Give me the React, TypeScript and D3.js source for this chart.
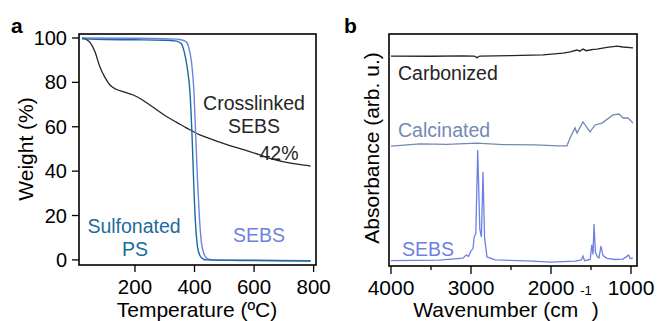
import React from 'react';
import * as d3 from 'd3';

// ---- panel a: TGA (temperature in °C, weight in %)
const crosslinkedT = [22, 35, 49, 65, 82, 100, 116, 135, 160, 194, 220, 250, 280, 307, 340, 374, 418, 470, 530, 580, 620, 660, 700, 750, 790];
const crosslinkedW = [100, 99.5, 98, 94, 87, 82, 78.8, 77, 75.8, 74.3, 72.5, 69.8, 67, 64.5, 62, 59.4, 56.3, 53.8, 51, 49, 47.3, 45.5, 44.2, 43, 42.3];

const sulfonatedT = [22, 100, 200, 300, 340, 355, 365, 375, 385, 392, 398, 404, 410, 418, 428, 440, 600, 790];
const sulfonatedW = [99.6, 99.3, 99.2, 99, 98.6, 97.5, 94, 87, 75, 55, 32, 15, 6, 2, 0.5, 0, -0.3, -0.5];

const sebsT = [22, 200, 300, 350, 370, 380, 390, 398, 404, 410, 416, 423, 431, 439, 448, 462, 790];
const sebsW = [100, 99.9, 99.7, 99.3, 98.5, 96, 89, 76, 56, 36, 20, 8, 3, 1, 0.3, 0, -0.4];

const tempTicks = [200, 400, 600, 800];
const weightTicks = [0, 20, 40, 60, 80, 100];

// ---- panel b: FTIR (wavenumber in cm-1, absorbance in arb. u. with offsets)
const carbonizedX = [4000, 3500, 3100, 2960, 2925, 2890, 2500, 2100, 1850, 1760, 1675, 1640, 1600, 1560, 1512, 1470, 1425, 1300, 1175, 1100, 975];
const carbonizedY = [90.5, 90.4, 90.6, 90.5, 89.8, 90.5, 90.7, 91, 91.8, 92.3, 93.1, 92.6, 93.5, 92.8, 93.1, 93.4, 93.5, 94.2, 94.8, 94.4, 94];

const calcinatedX = [4000, 3640, 3300, 2925, 2600, 2200, 1900, 1800, 1762, 1700, 1675, 1600, 1512, 1450, 1362, 1225, 1150, 1100, 1037, 975];
const calcinatedY = [51.7, 52.6, 52.4, 53, 52.3, 52.2, 51.8, 51.8, 55.2, 59.5, 57.3, 62.1, 57.8, 60.8, 61.6, 65.1, 65.5, 63.8, 63.8, 61.6];

const sebsIrX = [4000, 3400, 3100, 3060, 3030, 3000, 2975, 2960, 2940, 2916, 2890, 2870, 2850, 2830, 2800, 2700, 2300, 2000, 1700, 1620, 1600, 1580, 1510, 1490, 1475, 1462, 1445, 1420, 1400, 1375, 1350, 1300, 1200, 1100, 1030, 1010, 975];
const sebsIrY = [2.3, 2.5, 3.4, 4.7, 4.2, 6.5, 7.5, 12.5, 14, 50, 16, 12.5, 40.5, 12, 3.9, 2.6, 2.2, 1.7, 2.1, 2.6, 4.3, 2.3, 2.8, 9.1, 5, 18.1, 6, 4, 3.5, 8.6, 4.5, 3.3, 2.8, 3, 4.7, 3.2, 3.4];

const waveMajor = [4000, 3000, 2000, 1000];
const waveMinor = [3500, 2500, 1500];

const FONT = '"Liberation Sans", Arial, Helvetica, sans-serif';
const C_CROSS = '#252525';
const C_SULF = '#1b6c9c';
const C_SEBS = '#6f80e4';
const C_CALC = '#7389b3';

const zip = (xs: number[], ys: number[]) => xs.map((x, i) => [x, ys[i]] as [number, number]);

export default function App() {
  // panel a scales
  const xA = d3.scaleLinear().domain([12, 808]).range([79, 316]);
  const yA = d3.scaleLinear().domain([-2.3, 101.8]).range([265, 34]);
  const lineA = d3.line<[number, number]>()
    .x(d => xA(d[0]))
    .y(d => yA(d[1]))
    .curve(d3.curveMonotoneX);

  // panel b scales
  const xB = d3.scaleLinear().domain([4025, 925]).range([389, 637]);
  const yB = d3.scaleLinear().domain([0, 100]).range([266, 34]);
  const lineB = d3.line<[number, number]>()
    .x(d => xB(d[0]))
    .y(d => yB(d[1]));

  const [a0, a1] = xA.range();
  const [aB, aT] = yA.range();
  const [b0, b1] = xB.range();
  const [bB, bT] = yB.range();

  return (
    <svg width={658} height={321} style={{ position: 'absolute', left: 0, top: 0, background: '#fff' }} fontFamily={FONT}>
      {/* ---------- panel a ---------- */}
      <text x={11} y={33} fontSize={21} fontWeight="bold">a</text>

      <path d={lineA(zip(crosslinkedT, crosslinkedW)) || ''} fill="none" stroke={C_CROSS} strokeWidth={1.3} />
      <path d={lineA(zip(sebsT, sebsW)) || ''} fill="none" stroke={C_SEBS} strokeWidth={1.4} />
      <path d={lineA(zip(sulfonatedT, sulfonatedW)) || ''} fill="none" stroke={C_SULF} strokeWidth={1.4} />

      <rect x={a0} y={aT} width={a1 - a0} height={aB - aT} fill="none" stroke="#000" strokeWidth={1.6} />

      {weightTicks.map(t => (
        <g key={'wy' + t}>
          <line x1={a0 - 7} x2={a0} y1={yA(t)} y2={yA(t)} stroke="#000" strokeWidth={1.3} />
          <text x={a0 - 12} y={yA(t)} dy="0.35em" textAnchor="end" fontSize={20}>{t}</text>
        </g>
      ))}
      {tempTicks.map(t => (
        <g key={'tx' + t}>
          <line x1={xA(t)} x2={xA(t)} y1={aB} y2={aB + 7} stroke="#000" strokeWidth={1.3} />
          <text x={xA(t)} y={294} textAnchor="middle" fontSize={20.5}>{t}</text>
        </g>
      ))}
      <text x={197} y={317} textAnchor="middle" fontSize={21}>Temperature (ºC)</text>
      <text transform="translate(33,149) rotate(-90)" textAnchor="middle" fontSize={21}>Weight (%)</text>

      <text x={254} y={110} textAnchor="middle" fontSize={19.5} fill={C_CROSS}>Crosslinked</text>
      <text x={254} y={133} textAnchor="middle" fontSize={19.5} fill={C_CROSS}>SEBS</text>
      <text x={279} y={160} textAnchor="middle" fontSize={19.5} fill={C_CROSS}>42%</text>
      <text x={134} y={233} textAnchor="middle" fontSize={19.5} fill={C_SULF}>Sulfonated</text>
      <text x={135} y={256} textAnchor="middle" fontSize={19.5} fill={C_SULF}>PS</text>
      <text x={259} y={242} textAnchor="middle" fontSize={19.5} fill={C_SEBS}>SEBS</text>

      {/* ---------- panel b ---------- */}
      <text x={344} y={33} fontSize={21} fontWeight="bold">b</text>

      <path d={lineB(zip(carbonizedX, carbonizedY)) || ''} fill="none" stroke={C_CROSS} strokeWidth={1.3} />
      <path d={lineB(zip(calcinatedX, calcinatedY)) || ''} fill="none" stroke={C_CALC} strokeWidth={1.3} />
      <path d={lineB(zip(sebsIrX, sebsIrY)) || ''} fill="none" stroke={C_SEBS} strokeWidth={1.3} />

      <rect x={b0} y={bT} width={b1 - b0} height={bB - bT} fill="none" stroke="#000" strokeWidth={1.6} />

      {waveMajor.map(t => (
        <g key={'wm' + t}>
          <line x1={xB(t)} x2={xB(t)} y1={bB} y2={bB + 8} stroke="#000" strokeWidth={1.3} />
          <text x={xB(t)} y={295} textAnchor="middle" fontSize={21}>{t}</text>
        </g>
      ))}
      {waveMinor.map(t => (
        <line key={'wn' + t} x1={xB(t)} x2={xB(t)} y1={bB} y2={bB + 4} stroke="#000" strokeWidth={1.3} />
      ))}
      <text x={506} y={317} textAnchor="middle" fontSize={21}>
        Wavenumber (cm
        <tspan fontSize={13} dy={-22} dx={2}>-1</tspan>
        <tspan fontSize={21} dy={22}>)</tspan>
      </text>
      <text transform="translate(379,148) rotate(-90)" textAnchor="middle" fontSize={21}>Absorbance (arb. u.)</text>

      <text x={398} y={80} fontSize={19.5} fill={C_CROSS}>Carbonized</text>
      <text x={398} y={137} fontSize={19.5} fill={C_CALC}>Calcinated</text>
      <text x={402} y={256} fontSize={19.5} fill={C_SEBS}>SEBS</text>
    </svg>
  );
}
